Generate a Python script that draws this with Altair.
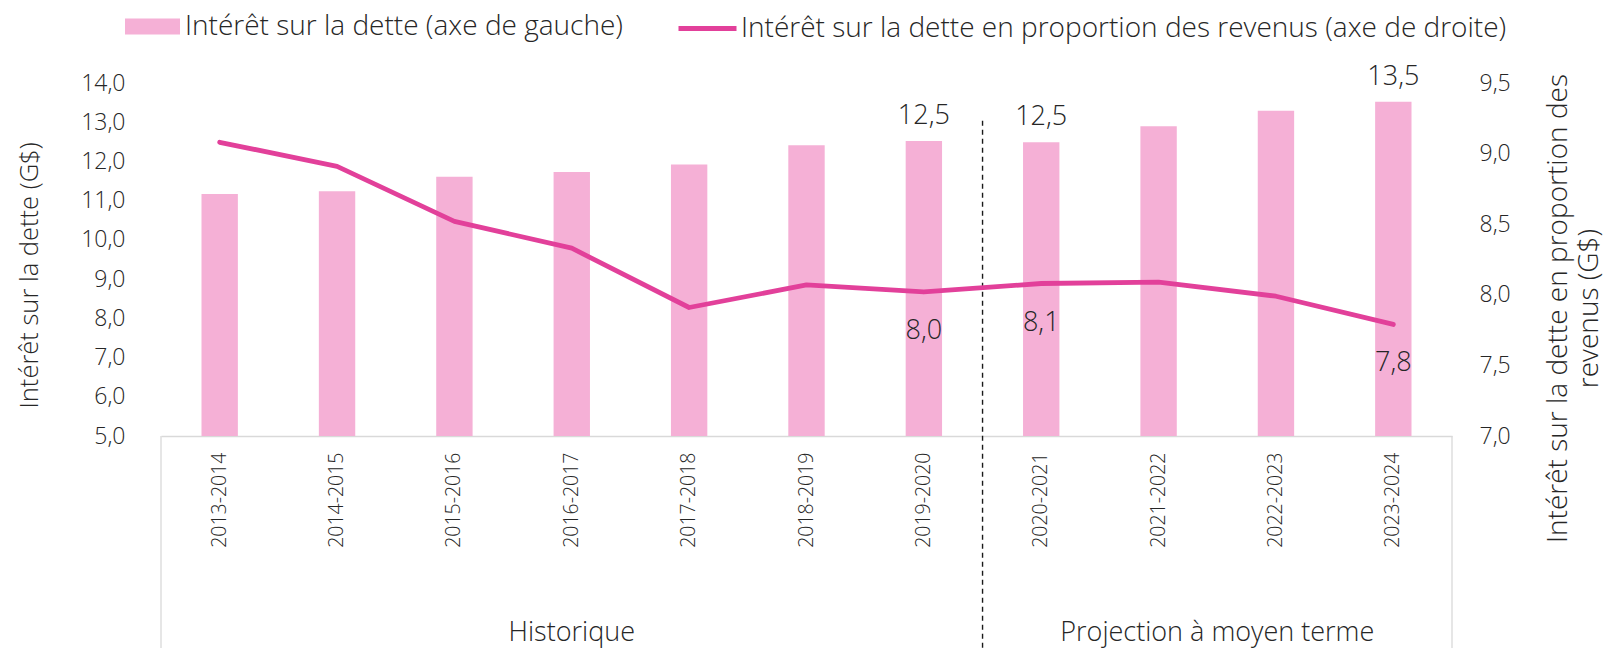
import altair as alt
import pandas as pd

categories = ["2013-2014", "2014-2015", "2015-2016", "2016-2017", "2017-2018", "2018-2019",
              "2019-2020", "2020-2021", "2021-2022", "2022-2023", "2023-2024"]
interet = [11.17, 11.24, 11.61, 11.73, 11.92, 12.41, 12.52, 12.49, 12.90, 13.29, 13.52]
proportion = [9.08, 8.91, 8.52, 8.33, 7.91, 8.07, 8.02, 8.08, 8.09, 7.99, 7.79]
label_idx = [6, 7, 10]
groups = ["Historique", "Projection à moyen terme"]
left_ticks = [5, 6, 7, 8, 9, 10, 11, 12, 13, 14]
right_ticks = [7.0, 7.5, 8.0, 8.5, 9.0, 9.5]

s_bar = "Intérêt sur la dette (axe de gauche)"
s_line = "Intérêt sur la dette en proportion des revenus (axe de droite)"

def fr(v):
    return f"{v:.1f}".replace(".", ",")

df = pd.DataFrame({"cat": categories, "interet": interet, "prop": proportion})
df["s_bar"] = s_bar
df["s_line"] = s_line
lab = df.iloc[label_idx].copy()
lab["bar_lab"] = [fr(v) for v in lab["interet"]]
lab["line_lab"] = [fr(v) for v in lab["prop"]]

FONT = "Open Sans"
FW = 300
TXT = "#262626"
BAR = "#F5B0D6"
LINE = "#E2409A"
W, H = 1291, 353
BIG = 27

XSCALE = alt.Scale(paddingInner=0, paddingOuter=0)
XAXIS = alt.Axis(title=None, labelAngle=270, labelFontSize=19.5, labelFont=FONT,
                 labelFontWeight=FW, labelColor=TXT, ticks=False, labelPadding=16,
                 domainColor="#D9D9D9", domainWidth=1.3, labelBaseline="middle")

def xn(bp=None):
    if bp is None:
        return alt.X("cat:N", sort=categories, scale=XSCALE, axis=XAXIS)
    return alt.X("cat:N", sort=categories, bandPosition=bp, scale=XSCALE, axis=XAXIS)

yleft_scale = alt.Scale(domain=[5, 14], zero=False, nice=False)
yright_scale = alt.Scale(domain=[7, 9.5], zero=False, nice=False)

LAXIS = alt.Axis(title="Intérêt sur la dette (G$)", values=left_ticks,
                 labelExpr="replace(format(datum.value, '.1f'), '.', ',')",
                 labelOverlap=False, labelFlush=False,
                 grid=False, domain=False, ticks=False, labelPadding=36,
                 labelFontSize=23, labelFont=FONT, labelFontWeight=FW, labelColor=TXT,
                 titleFontSize=25.5, titleFont=FONT, titleFontWeight=FW, titleColor=TXT,
                 titleX=-132, titleY=192, titleAngle=270, titleBaseline="middle",
                 titleAlign="center")
RAXIS = alt.Axis(orient="right", title=["Intérêt sur la dette en proportion des", "revenus (G$)"],
                 values=right_ticks,
                 labelExpr="replace(format(datum.value, '.1f'), '.', ',')",
                 labelOverlap=False, labelFlush=False,
                 grid=False, domain=False, ticks=False, labelPadding=27,
                 labelFontSize=23, labelFont=FONT, labelFontWeight=FW, labelColor=TXT,
                 titleFontSize=28, titleFont=FONT, titleFontWeight=FW, titleColor=TXT,
                 titleAngle=270, titleX=106, titleY=225, titleBaseline="middle",
                 titleAlign="center", titleLineHeight=31)

base = alt.Chart(df)

bars = base.mark_bar(width=alt.RelativeBandSize(0.31), color=BAR).encode(
    x=xn(),
    y=alt.Y("interet:Q", scale=yleft_scale, axis=LAXIS),
    y2=alt.Y2(datum=5),
    color=alt.Color("s_bar:N", scale=alt.Scale(range=[BAR]),
                    legend=alt.Legend(title=None, orient="none", legendX=-36, legendY=-84,
                                      symbolType="M-1,-0.29H1V0.29H-1Z", symbolSize=3025,
                                      symbolStrokeWidth=0, labelFontSize=28, labelFont=FONT,
                                      labelFontWeight=FW, labelColor=TXT, labelOffset=5,
                                      labelLimit=900, padding=0)),
)

bar_text = alt.Chart(lab).mark_text(fontSize=BIG, font=FONT, fontWeight=FW, color=TXT,
                                    baseline="middle", dy=-25).encode(
    x=xn(), y=alt.Y("interet:Q", scale=yleft_scale, axis=LAXIS),
    text="bar_lab:N")

sep_df = pd.DataFrame({"cat": [categories[6]]})
sep = alt.Chart(sep_df).mark_rule(color="#1a1a1a", strokeDash=[5, 4], strokeWidth=1.4).encode(
    x=xn(1),
    y=alt.Y(datum=13.04, scale=yleft_scale, axis=LAXIS), y2=alt.value(H + 260))

frame_df = pd.DataFrame({"cat": [categories[0]]})
frame_l = alt.Chart(frame_df).mark_rule(color="#D9D9D9", strokeWidth=1.3).encode(
    x=xn(0), y=alt.value(H), y2=alt.value(H + 260))
frame_r_df = pd.DataFrame({"cat": [categories[-1]]})
frame_r = alt.Chart(frame_r_df).mark_rule(color="#D9D9D9", strokeWidth=1.3).encode(
    x=xn(1), y=alt.value(H), y2=alt.value(H + 260))

g1 = alt.Chart(pd.DataFrame({"cat": [categories[3]], "g": [groups[0]]})).mark_text(
    fontSize=BIG, font=FONT, fontWeight=FW, color=TXT, baseline="middle").encode(
    x=xn(0.5), y=alt.value(H + 197), text="g:N")
g2 = alt.Chart(pd.DataFrame({"cat": [categories[8]], "g": [groups[1]]})).mark_text(
    fontSize=BIG, font=FONT, fontWeight=FW, color=TXT, baseline="middle").encode(
    x=xn(1), y=alt.value(H + 197), text="g:N")

left = alt.layer(bars, bar_text, sep, frame_l, frame_r, g1, g2)

line = base.mark_line(strokeWidth=4.8, strokeCap="round", strokeJoin="round").encode(
    x=xn(),
    y=alt.Y("prop:Q", scale=yright_scale, axis=RAXIS),
    stroke=alt.Stroke("s_line:N", scale=alt.Scale(range=[LINE]),
                      legend=alt.Legend(title=None, orient="none", legendX=515, legendY=-86,
                                        symbolType="stroke", symbolSize=3364,
                                        symbolStrokeWidth=5, labelFontSize=28, labelFont=FONT,
                                        labelFontWeight=FW, labelColor=TXT, labelOffset=2,
                                        labelLimit=1000, padding=0)),
)

line_text = alt.Chart(lab).mark_text(fontSize=BIG, font=FONT, fontWeight=FW, color=TXT,
                                     baseline="middle", dy=39).encode(
    x=xn(), y=alt.Y("prop:Q", scale=yright_scale, axis=RAXIS),
    text="line_lab:N")

right = alt.layer(line, line_text)

chart = alt.layer(left, right).resolve_scale(
    y="independent", color="independent", stroke="independent"
).properties(
    width=W, height=H,
    autosize=alt.AutoSizeParams(type="none"),
    padding={"left": 153, "top": 75, "right": 154, "bottom": 212},
).configure(background="white").configure_view(stroke=None)

chart.save("out.html", embed_options={"renderer": "svg", "actions": False})
